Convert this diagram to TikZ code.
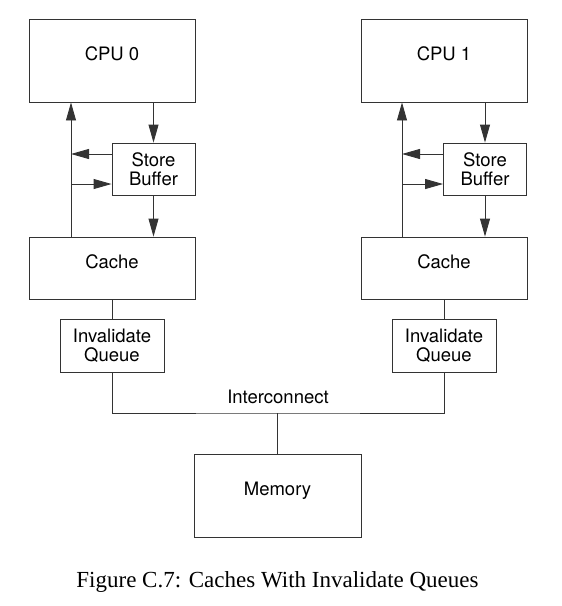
\documentclass[tikz,border=0pt]{standalone}
\usepackage{fontspec}
\setmainfont{Liberation Serif}
\newfontfamily\diagfont{TeX Gyre Heros}
\usetikzlibrary{arrows.meta}

\begin{document}
\begin{tikzpicture}[x=1pt,y=-1pt,line width=0.9pt,
        >={Triangle[length=18pt,width=10pt]},
        box/.style={draw=black!80,font=\diagfont\fontsize{18.5}{19.5}\selectfont,align=center,inner sep=0pt},
        onebox/.style={box,text height=6.5pt,text depth=6.5pt},
        wire/.style={draw=black!80}]
        \useasboundingbox (0,0) rectangle (562,606);

        \node[onebox,minimum width=166pt,minimum height=83pt] (CPU0) at (112,60.5){CPU 0};
        \node[onebox,minimum width=166pt,minimum height=83pt] (CPU1) at (444,60.5){CPU 1};
        \node[box,minimum width=83pt,minimum height=52pt] (SB0) at (153.5,169){Store\\Buffer};
        \node[box,minimum width=83pt,minimum height=52pt] (SB1) at (485,169){Store\\Buffer};
        \node[onebox,minimum width=166pt,minimum height=62pt] (Cache0) at (112,268){Cache};
        \node[onebox,minimum width=166pt,minimum height=62pt] (Cache1) at (444,268){Cache};
        \node[box,minimum width=104pt,minimum height=53pt] (IQ0) at (112,345.5){Invalidate\\Queue};
        \node[box,minimum width=104pt,minimum height=53pt] (IQ1) at (444,345.5){Invalidate\\Queue};
        \node[onebox,minimum width=167pt,minimum height=83pt] (Mem) at (277.5,495.5){Memory};
        \node[font=\diagfont\fontsize{18.5}{19.5}\selectfont,anchor=base,inner sep=0pt] (Interconnect) at (278,403){Interconnect};
        \node[font=\fontsize{23}{27}\selectfont,anchor=base,inner sep=0pt] (Caption) at (277.5,587){Figure C.7: Caches With Invalidate Queues};

        \coordinate (ret0) at (71,237);
        \coordinate (ret1) at (402,237);
        \coordinate (bus) at (277.5,413);

        \path [wire,->] (CPU0.south -| SB0) to (SB0.north);
        \path [wire,->] (SB0.south) to (Cache0.north -| SB0);
        \path [wire,->] (Cache0.north -| ret0) to (CPU0.south -| ret0);
        \path [wire,->] ([yshift=15pt]SB0.west) to ([yshift=15pt]SB0.west -| ret0);
        \path [wire,->] ([yshift=-15pt]SB0.west -| ret0) to ([yshift=-15pt]SB0.west);
        \path [wire,->] (CPU1.south -| SB1) to (SB1.north);
        \path [wire,->] (SB1.south) to (Cache1.north -| SB1);
        \path [wire,->] (Cache1.north -| ret1) to (CPU1.south -| ret1);
        \path [wire,->] ([yshift=15pt]SB1.west) to ([yshift=15pt]SB1.west -| ret1);
        \path [wire,->] ([yshift=-15pt]SB1.west -| ret1) to ([yshift=-15pt]SB1.west);

        \path [wire] (Cache0.south) to (IQ0.north);
        \path [wire] (Cache1.south) to (IQ1.north);
        \path [wire] (IQ0.south) |- (bus) -| (IQ1.south);
        \path [wire] (bus) to (Mem.north);
    \end{tikzpicture}
\end{document}
